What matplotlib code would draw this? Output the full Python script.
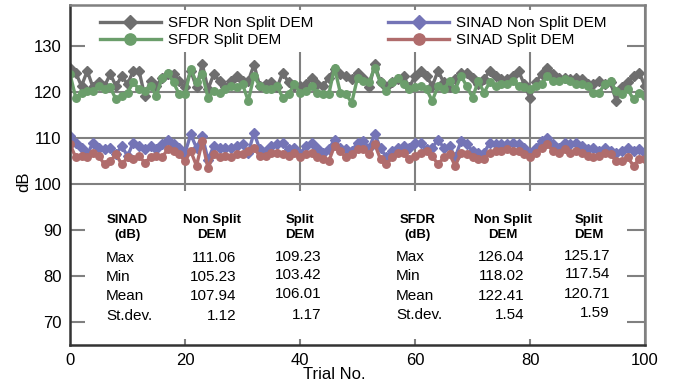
import numpy as np
import matplotlib
matplotlib.use("Agg")
import matplotlib.pyplot as plt
from matplotlib.patches import Rectangle

plt.rcParams['font.family'] = ['Liberation Sans', 'DejaVu Sans']

# values, one per trial (0..100)
sfdr_non_split = [125.2, 124.1, 121.2, 124.5, 120.9, 122.0, 121.2, 123.8, 121.2, 123.4,
                  121.6, 124.5, 124.5, 119.1, 122.3, 121.2, 123.0, 123.8, 123.8, 122.3,
                  120.9, 124.5, 120.9, 126.0, 120.5, 123.8, 122.3, 120.9, 122.3, 123.4,
                  122.3, 122.3, 125.8, 121.2, 121.6, 122.0, 120.9, 124.1, 122.0, 121.2,
                  121.2, 121.6, 123.0, 121.6, 121.2, 123.0, 124.9, 123.8, 123.4, 122.7,
                  124.1,
                  123.0, 120.9, 125.9, 122.0, 120.9, 122.0, 122.7, 123.4, 120.9, 123.4,
                  124.5, 123.4, 121.2, 124.5, 122.0, 120.9, 122.7, 124.1, 124.1, 123.0,
                  121.6, 122.7, 124.5, 123.4, 122.7, 122.7, 123.4, 124.5, 121.6, 118.7,
                  122.0, 123.8, 125.2, 123.8, 123.0, 123.0, 122.7, 123.0, 122.7, 121.6,
                  121.6, 122.3, 121.6, 122.0, 118.0, 120.9, 122.0, 123.4, 124.1, 121.2]

sfdr_split = [123.8, 118.7, 119.8, 120.1, 120.1, 121.2, 120.5, 120.9, 118.3, 119.1,
              119.8, 122.0, 120.5, 120.1, 121.2, 119.1, 123.0, 124.1, 122.0, 119.4,
              119.4, 124.9, 122.0, 123.8, 118.7, 120.1, 119.8, 120.5, 121.2, 120.9,
              121.6, 118.0, 123.4, 121.2, 120.5, 120.5, 121.2, 118.7, 119.4, 121.6,
              119.8, 120.1, 121.2, 119.8, 119.4, 119.4, 125.2, 119.8, 119.4, 117.6,
              123.0,
              122.3, 122.0, 125.2, 122.0, 120.1, 122.0, 123.0, 121.6, 120.5, 120.9,
              121.2, 120.5, 118.0, 121.2, 120.5, 122.3, 120.5, 123.4, 121.2, 118.7,
              122.3, 119.8, 122.0, 121.2, 121.6, 121.6, 122.3, 121.2, 120.9, 120.5,
              121.2, 121.6, 123.4, 122.3, 122.3, 122.7, 122.3, 121.6, 121.6, 121.2,
              119.8, 119.8, 121.6, 122.3, 120.1, 119.4, 120.5, 118.3, 119.8, 119.1]

sinad_non_split = [110.4, 108.9, 107.8, 106.4, 108.9, 107.8, 107.5, 107.8, 106.4, 108.2,
                   106.0, 108.9, 108.2, 107.5, 108.2, 107.5, 108.6, 109.6, 108.6, 107.8,
                   106.7, 110.7, 107.8, 110.4, 105.2, 108.2, 107.8, 107.8, 107.8, 108.2,
                   108.6, 106.7, 111.1, 107.5, 107.1, 108.2, 108.6, 108.9, 107.5, 107.8,
                   106.4, 108.2, 108.9, 107.8, 106.7, 107.5, 109.6, 107.8, 107.5, 107.1,
                   108.9,
                   109.3, 107.8, 110.7, 107.8, 105.7, 107.1, 107.8, 108.2, 107.8, 108.9,
                   108.9, 107.5, 107.8, 109.6, 107.8, 108.2, 105.7, 109.3, 108.6, 107.1,
                   106.7, 106.7, 108.9, 108.6, 108.6, 108.6, 108.9, 108.6, 107.8, 106.7,
                   107.8, 109.3, 110.0, 108.6, 107.8, 108.9, 108.6, 108.9, 108.2, 107.5,
                   107.8, 107.1, 107.8, 107.1, 106.7, 107.1, 107.8, 107.1, 107.5, 106.7]

sinad_split = [108.6, 105.7, 106.0, 105.7, 106.7, 106.0, 104.2, 104.9, 106.4, 104.2,
               105.7, 105.3, 106.0, 104.6, 105.7, 106.0, 105.7, 107.5, 107.1, 106.4,
               104.9, 107.1, 103.9, 109.2, 103.4, 106.4, 105.7, 106.0, 105.7, 106.4,
               106.4, 107.1, 107.8, 106.0, 106.0, 106.7, 106.7, 106.4, 106.0, 106.7,
               105.7, 106.4, 106.7, 105.7, 105.3, 104.9, 108.2, 107.1, 105.7, 106.4,
               107.5,
               107.5, 106.4, 108.6, 105.3, 104.2, 105.7, 106.7, 106.7, 105.3, 106.0,
               106.7, 107.1, 106.0, 104.2, 105.7, 106.4, 103.9, 106.7, 106.4, 105.7,
               105.3, 105.3, 106.7, 107.1, 107.1, 107.5, 107.1, 107.1, 106.4, 105.7,
               106.7, 107.8, 108.6, 107.1, 106.7, 107.5, 106.7, 107.1, 106.7, 106.0,
               105.7, 106.0, 106.7, 106.4, 104.9, 104.9, 105.7, 103.9, 105.3, 105.3]

trials = np.arange(len(sfdr_non_split))

# statistics tables
stat_names = ['Max', 'Min', 'Mean', 'St.dev.']
sinad_stats_non_split = ['111.06', '105.23', '107.94', '1.12']
sinad_stats_split = ['109.23', '103.42', '106.01', '1.17']
sfdr_stats_non_split = ['126.04', '118.02', '122.41', '1.54']
sfdr_stats_split = ['125.17', '117.54', '120.71', '1.59']

fig = plt.figure(figsize=(6.78, 3.85), dpi=100)
ax = fig.add_axes([70 / 678, 40 / 385, 575 / 678, 340 / 385])

ax.set_xlim(0, 100)
ax.set_ylim(65, 138.8)
ax.set_xticks([0, 20, 40, 60, 80, 100])
ax.set_yticks([70, 80, 90, 100, 110, 120, 130])
ax.set_axisbelow(True)
ax.grid(True, color='#808080', lw=1.5)
ax.tick_params(direction='in', length=0, labelsize=12, pad=6)

for side in ['left', 'bottom']:
    ax.spines[side].set_color('#333333')
    ax.spines[side].set_linewidth(1.8)
for side in ['top', 'right']:
    ax.spines[side].set_color('#808080')
    ax.spines[side].set_linewidth(1.8)

# white boxes hiding the grid behind legend and tables
ax.add_patch(Rectangle((2.6, 128.5), 94.3, 9.3, facecolor='white', edgecolor='none', zorder=1))
ax.add_patch(Rectangle((2.6, 66.3), 94.3, 32.2, facecolor='white', edgecolor='none', zorder=1))

line_kw = dict(lw=2.4, zorder=2)
l1, = ax.plot(trials, sfdr_non_split, color='#6e6e6e', marker='D', ms=4.6,
              label='SFDR Non Split DEM', **line_kw)
l2, = ax.plot(trials, sfdr_split, color='#6b9e6b', marker='o', ms=5.4,
              label='SFDR Split DEM', **line_kw)
l3, = ax.plot(trials, sinad_non_split, color='#7474b6', marker='D', ms=4.6,
              label='SINAD Non Split DEM', **line_kw)
l4, = ax.plot(trials, sinad_split, color='#b06c6c', marker='o', ms=5.4,
              label='SINAD Split DEM', **line_kw)

leg_kw = dict(frameon=False, fontsize=11, handlelength=4.0, handletextpad=0.45,
              labelspacing=0.2, borderpad=0, borderaxespad=0, markerscale=1.5, loc='upper left')
leg1 = ax.legend(handles=[l1, l2], bbox_to_anchor=(0.052, 0.968), **leg_kw)
ax.add_artist(leg1)
ax.legend(handles=[l3, l4], bbox_to_anchor=(0.553, 0.968), **leg_kw)

ax.set_ylabel('dB', fontsize=12)
ax.yaxis.set_label_coords(-0.068, 0.48)
ax.set_xlabel('Trial No.', fontsize=12)
ax.xaxis.set_label_coords(0.46, -0.065)

# tables
hdr = dict(fontsize=9.5, fontweight='bold', ha='center', va='center', linespacing=1.35)
val = dict(fontsize=11, va='center')


def draw_table(x_name, x_h1, x_h2, x_v1, x_v2, title, col1, col2, rows_y):
    ax.text(x_name + 3.7, 90.5, title, **hdr)
    ax.text(x_h1, 90.5, 'Non Split\nDEM', **hdr)
    ax.text(x_h2, 90.5, 'Split\nDEM', **hdr)
    for name, a, b, yy in zip(stat_names, col1, col2, rows_y):
        ax.text(x_name, yy, name, ha='left', **val)
        ax.text(x_v1, yy, a, ha='right', **val)
        ax.text(x_v2, yy + 0.4, b, ha='right', **val)


draw_table(6.3, 24.7, 40.0, 28.9, 43.8, 'SINAD\n(dB)',
           sinad_stats_non_split, sinad_stats_split, [83.8, 79.7, 75.6, 71.2])
draw_table(56.7, 75.3, 90.3, 79.0, 93.9, 'SFDR\n(dB)',
           sfdr_stats_non_split, sfdr_stats_split, [84.0, 80.0, 75.6, 71.6])

fig.savefig('out.png', dpi=100)
